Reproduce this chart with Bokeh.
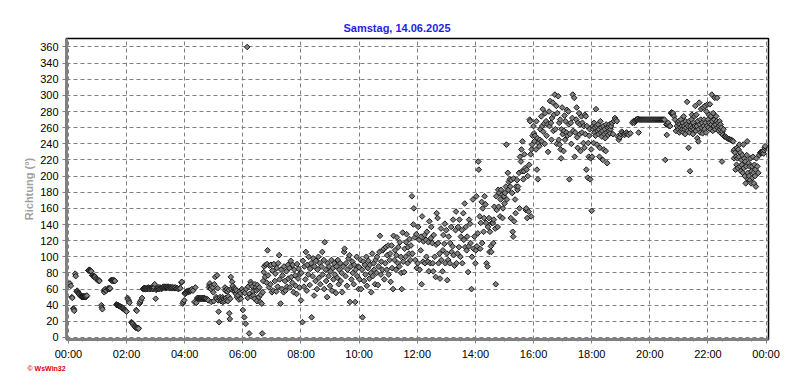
from bokeh.plotting import figure
from bokeh.models import Range1d, FixedTicker, ColumnDataSource, Title
from bokeh.embed import file_html
from bokeh.resources import INLINE
import math

# ---- data: (minute of day, wind direction in degrees) ----
block_00_02 = [(3,67),(5,64),(7,50),(8,49),(10,36),(11,35),(12,33),(14,79),(15,76),(17,57),(18,58),(19,57),(20,56),(21,55),(22,54),(23,53),(24,52),(25,52),(26,51),(27,51),(28,50),(29,51),(30,50),(31,51),(32,50),(33,51),(34,50),(35,51),(36,50),(37,51),(38,52),(41,83),(42,83),(43,84),(44,83),(45,83),(46,82),(47,82),(49,77),(50,77),(51,76),(52,76),(53,75),(54,76),(55,75),(57,73),(59,72),(61,71),(62,70),(63,71),(64,70),(68,40),(69,37),(70,35),(73,58),(74,56),(75,59),(76,60),(78,58),(81,60),(82,61),(83,60),(84,61),(85,60),(86,61),(88,71),(89,71),(90,70),(91,71),(92,71),(93,70),(94,71),(95,70),(96,70),(99,41),(100,40),(101,40),(102,40),(103,40),(104,39),(105,39),(106,39),(107,38),(108,38),(109,38),(110,37),(111,37),(112,36),(114,36),(115,35),(116,34),(117,34),(118,33),(120,32)]
block_02_04 = [(122,49),(123,47),(125,45),(126,43),(130,19),(131,18),(132,18),(133,17),(135,15),(137,14),(138,13),(139,12),(140,34),(141,33),(142,12),(143,11),(144,12),(145,11),(147,42),(148,44),(150,46),(152,49),(154,60),(155,61),(156,60),(157,61),(158,61),(159,60),(160,61),(161,60),(162,61),(163,60),(164,61),(165,62),(166,61),(167,60),(168,61),(169,60),(170,61),(171,62),(172,61),(173,60),(174,61),(175,61),(176,60),(177,62),(178,66),(180,48),(181,59),(182,60),(183,61),(184,60),(185,61),(186,62),(187,60),(188,61),(189,62),(190,61),(192,60),(193,61),(194,62),(195,62),(196,63),(197,62),(198,62),(199,63),(200,62),(201,61),(202,62),(203,63),(204,62),(205,62),(206,63),(207,62),(208,62),(209,61),(210,62),(211,62),(212,62),(213,61),(214,62),(215,62),(217,61),(218,62),(220,61),(221,62),(223,61),(225,61),(227,60),(229,61),(231,61),(233,68),(234,69)]
block_04_06 = [(236,42),(237,44),(239,46),(240,55),(241,54),(242,56),(243,55),(244,57),(245,57),(246,56),(247,57),(248,58),(249,57),(250,58),(251,57),(252,58),(253,59),(255,60),(257,58),(260,44),(262,62),(264,43),(266,49),(267,48),(268,49),(269,48),(270,48),(271,49),(272,48),(273,48),(274,49),(275,48),(276,48),(277,49),(278,48),(279,48),(280,49),(281,48),(282,48),(283,48),(285,48),(287,47),(289,46),(290,62),(291,65),(292,67),(293,63),(294,60),(295,44),(296,64),(298,62),(299,56),(300,45),(301,66),(303,75),(305,50),(306,48),(307,77),(308,61),(309,46),(310,32),(311,19),(312,48),(313,50),(314,47),(315,45),(316,48),(317,46),(318,50),(319,44),(320,48),(321,47),(322,45),(323,62),(324,58),(325,49),(326,46),(327,60),(328,57),(329,45),(330,51),(331,59),(332,30),(333,23),(334,48),(335,75),(336,60),(338,69),(339,64),(340,58),(342,61),(343,59),(344,57),(345,60),(346,54),(347,58),(348,50),(350,52),(352,47),(353,57),(355,55),(356,48)]
block_06_08 = [(358,60),(360,34),(361,57),(363,25),(364,55),(366,17),(367,60),(369,360),(370,49),(371,63),(373,5),(374,54),(376,69),(377,66),(378,51),(380,63),(381,57),(382,52),(384,48),(385,66),(387,62),(388,58),(389,45),(390,65),(392,60),(393,50),(394,62),(396,44),(397,53),(399,42),(400,5),(401,56),(402,70),(403,81),(404,88),(406,75),(407,90),(409,68),(410,91),(411,108),(412,77),(414,62),(415,89),(417,66),(418,90),(420,56),(421,83),(423,58),(424,91),(426,70),(427,79),(429,57),(430,86),(432,63),(433,92),(435,102),(436,72),(438,42),(439,84),(441,60),(442,77),(444,56),(445,88),(447,70),(448,58),(450,82),(451,63),(453,90),(454,73),(456,86),(457,62),(459,95),(460,75),(462,68),(463,90),(465,56),(466,84),(468,77),(469,64),(471,54),(472,91),(474,73),(475,85),(477,62),(478,79)]
block_08_10 = [(480,46),(481,80),(483,19),(484,95),(486,63),(487,88),(489,72),(490,106),(492,58),(493,90),(495,78),(496,100),(498,65),(499,85),(501,92),(502,25),(504,76),(505,98),(507,52),(508,88),(510,70),(511,95),(513,60),(514,84),(516,100),(517,74),(519,92),(520,66),(522,88),(524,106),(525,78),(527,96),(528,60),(529,118),(531,84),(532,70),(534,50),(535,92),(537,76),(538,88),(540,64),(541,82),(543,96),(544,58),(546,86),(547,72),(549,92),(550,78),(552,55),(553,88),(555,74),(556,96),(558,66),(559,84),(561,92),(562,70),(564,80),(565,56),(567,88),(569,106),(570,110),(572,76),(573,92),(575,64),(576,84),(578,98),(580,102),(581,44),(583,88),(584,72),(586,94),(587,80),(589,66),(590,90),(592,44),(593,84),(595,100),(596,76),(598,88),(599,60)]
block_10_12 = [(600,87),(601,72),(603,96),(604,60),(606,84),(607,25),(609,94),(610,70),(612,90),(613,78),(615,100),(616,64),(618,86),(619,95),(621,73),(622,90),(624,80),(625,56),(627,104),(628,76),(630,92),(631,84),(633,66),(634,96),(636,80),(637,100),(639,65),(640,88),(642,106),(643,126),(645,78),(646,94),(648,84),(649,108),(651,110),(652,72),(654,92),(655,112),(657,84),(658,102),(660,114),(661,78),(663,96),(664,104),(665,69),(667,114),(668,86),(670,60),(671,126),(673,96),(674,108),(676,84),(677,102),(678,124),(680,92),(681,112),(683,88),(684,118),(686,100),(687,80),(688,60),(690,130),(691,94),(693,81),(694,110),(696,100),(697,118),(698,128),(700,92),(701,112),(703,104),(704,122),(706,96),(707,114),(709,175),(710,104),(712,140),(713,160),(715,124),(716,96),(718,128),(719,86)]
block_12_14 = [(721,92),(722,137),(724,121),(725,84),(727,108),(728,125),(729,66),(730,150),(732,94),(733,119),(735,127),(736,92),(738,121),(739,100),(740,131),(742,94),(743,118),(744,82),(745,144),(747,92),(748,123),(749,137),(751,117),(752,92),(753,82),(754,127),(756,100),(758,75),(759,115),(760,154),(762,148),(763,117),(764,92),(766,104),(767,73),(769,135),(770,96),(772,82),(773,108),(774,127),(776,116),(777,141),(778,92),(780,133),(781,104),(782,71),(784,96),(785,125),(787,92),(788,117),(790,137),(791,106),(793,113),(794,146),(795,102),(797,89),(799,133),(800,156),(801,92),(803,104),(804,137),(806,112),(807,146),(809,100),(810,125),(812,133),(813,92),(815,154),(816,121),(818,166),(819,112),(820,137),(822,108),(823,125),(825,81),(826,113),(827,146),(829,141),(830,117),(832,60),(833,100),(835,171),(836,110),(838,125),(840,92),(841,108)]
block_14_16 = [(842,175),(843,113),(845,129),(846,218),(847,208),(849,150),(850,110),(851,142),(853,168),(854,117),(855,160),(857,131),(858,148),(859,175),(861,165),(862,142),(863,92),(865,88),(866,137),(868,148),(869,106),(870,131),(872,113),(873,106),(874,142),(876,142),(877,117),(878,146),(879,162),(881,135),(882,66),(883,175),(884,158),(886,137),(887,183),(888,162),(889,179),(891,150),(892,171),(893,183),(895,177),(896,148),(897,160),(899,175),(900,166),(901,179),(903,187),(904,239),(905,171),(907,204),(908,183),(909,193),(911,196),(912,187),(913,148),(914,195),(916,179),(917,131),(918,125),(919,197),(920,144),(922,171),(923,154),(924,187),(926,195),(927,183),(928,187),(930,204),(931,160),(932,224),(934,218),(935,233),(936,206),(937,243),(939,196),(940,206),(941,227),(943,210),(944,158),(945,160),(946,208),(947,148),(948,200),(950,156),(951,214),(952,270),(953,268),(954,227),(955,150),(956,233),(957,239),(958,250),(960,262)]
block_16_18 = [(961,253),(962,243),(963,250),(965,233),(966,268),(967,208),(968,247),(969,196),(970,241),(972,237),(973,245),(974,258),(976,274),(977,243),(978,262),(979,283),(980,255),(982,265),(983,240),(984,278),(986,268),(987,250),(989,264),(990,230),(992,280),(993,262),(994,293),(996,266),(997,245),(998,272),(1000,291),(1001,256),(1002,276),(1004,301),(1005,258),(1007,287),(1008,240),(1009,278),(1011,299),(1012,245),(1013,266),(1014,239),(1015,270),(1016,233),(1017,222),(1018,258),(1019,285),(1020,252),(1022,231),(1023,256),(1024,275),(1025,245),(1026,268),(1028,254),(1029,282),(1030,250),(1032,280),(1033,264),(1034,196),(1035,252),(1037,266),(1038,240),(1040,272),(1041,301),(1042,256),(1044,297),(1045,224),(1046,254),(1048,270),(1049,285),(1050,248),(1051,235),(1052,266),(1054,278),(1055,252),(1056,264),(1057,231),(1059,274),(1060,254),(1061,266),(1063,241),(1064,262),(1065,235),(1066,276),(1067,252),(1068,274),(1069,208),(1070,262),(1072,198),(1073,241),(1074,224),(1075,250),(1076,258),(1077,196),(1078,222),(1079,233),(1080,157)]
block_18_20 = [(1081,224),(1082,262),(1083,258),(1084,241),(1085,266),(1086,254),(1087,260),(1088,250),(1089,283),(1090,262),(1091,239),(1092,256),(1093,264),(1094,252),(1095,258),(1096,224),(1097,235),(1098,268),(1099,254),(1100,260),(1101,249),(1102,256),(1103,220),(1104,262),(1105,233),(1106,252),(1107,258),(1108,247),(1109,231),(1110,264),(1111,254),(1112,216),(1113,260),(1114,251),(1115,262),(1116,256),(1117,264),(1118,253),(1119,258),(1120,262),(1122,266),(1124,252),(1126,268),(1128,272),(1130,270),(1132,268),(1134,249),(1136,245),(1138,248),(1140,252),(1142,255),(1144,254),(1146,252),(1148,251),(1150,253),(1152,254),(1154,252),(1156,251),(1160,253),(1164,266),(1166,268),(1168,266),(1170,268),(1171,269),(1172,270),(1173,270),(1174,270),(1175,270),(1176,271),(1177,254),(1178,270),(1180,270),(1182,270),(1184,270),(1186,270),(1188,270),(1190,270),(1192,270),(1194,270),(1196,270),(1198,270),(1200,270)]
block_20_22 = [(1202,270),(1204,270),(1206,270),(1208,270),(1210,270),(1212,270),(1214,270),(1216,270),(1218,270),(1220,270),(1222,270),(1224,270),(1226,270),(1228,270),(1230,270),(1232,220),(1234,264),(1235,251),(1236,264),(1238,266),(1240,262),(1242,262),(1244,278),(1245,279),(1246,278),(1247,277),(1248,278),(1250,274),(1252,270),(1254,256),(1256,262),(1258,266),(1259,258),(1260,268),(1261,254),(1262,264),(1263,260),(1264,270),(1265,256),(1266,262),(1267,258),(1268,266),(1269,254),(1270,274),(1271,262),(1272,258),(1273,252),(1274,268),(1275,260),(1276,264),(1277,292),(1278,256),(1279,262),(1280,235),(1281,268),(1282,254),(1283,206),(1284,262),(1285,258),(1286,270),(1287,276),(1288,260),(1289,252),(1290,266),(1291,258),(1292,274),(1293,262),(1294,287),(1295,256),(1296,276),(1297,262),(1298,247),(1299,268),(1300,243),(1301,258),(1302,291),(1303,264),(1304,254),(1305,270),(1306,283),(1307,260),(1308,266),(1309,253),(1310,285),(1311,262),(1312,270),(1313,258),(1314,287),(1315,266),(1316,254),(1317,280),(1318,262),(1319,289),(1320,270)]
block_22_24 = [(1321,260),(1322,276),(1323,266),(1324,289),(1325,258),(1326,274),(1327,264),(1328,301),(1329,268),(1330,256),(1331,278),(1332,262),(1333,270),(1334,297),(1335,258),(1336,264),(1337,274),(1338,268),(1339,297),(1340,260),(1341,266),(1342,256),(1343,262),(1344,268),(1345,258),(1346,264),(1347,253),(1348,260),(1349,218),(1350,255),(1351,251),(1352,258),(1354,249),(1356,249),(1358,248),(1360,247),(1362,246),(1364,246),(1366,245),(1368,245),(1370,244),(1372,243),(1373,231),(1374,222),(1375,233),(1376,229),(1377,208),(1378,224),(1379,214),(1380,235),(1381,222),(1382,210),(1383,233),(1384,224),(1385,239),(1386,212),(1387,229),(1388,206),(1389,220),(1390,214),(1391,226),(1392,204),(1393,239),(1394,210),(1395,222),(1396,200),(1397,218),(1398,191),(1399,212),(1400,226),(1401,243),(1402,204),(1403,196),(1404,216),(1405,200),(1406,212),(1407,195),(1408,222),(1409,191),(1410,206),(1411,212),(1412,198),(1413,224),(1414,204),(1415,191),(1416,214),(1417,200),(1418,208),(1419,187),(1420,222),(1422,212),(1424,204),(1426,226),(1428,229),(1429,229),(1430,230),(1431,229),(1432,230),(1433,229),(1434,230),(1435,228),(1436,232),(1437,235),(1438,237)]

x_tick_minutes = list(range(0, 1441, 120))
x_tick_labels = ["00:00", "02:00", "04:00", "06:00", "08:00", "10:00", "12:00",
                 "14:00", "16:00", "18:00", "20:00", "22:00", "00:00"]
y_ticks = list(range(0, 361, 20))
title_text = "Samstag, 14.06.2025"
y_label = "Richtung (°)"
credit_text = "© WsWin32"

blocks = [block_00_02, block_02_04, block_04_06, block_06_08, block_08_10, block_10_12,
          block_12_14, block_14_16, block_16_18, block_18_20, block_20_22, block_22_24]
minutes = [m for b in blocks for (m, d) in b]
dirs = [d for b in blocks for (m, d) in b]
src = ColumnDataSource(dict(minute=minutes, richtung=dirs))

FONT = "Liberation Sans"

p = figure(width=792, height=387, output_backend="svg", toolbar_location=None,
           x_range=Range1d(-4, 1445), y_range=Range1d(-2.5, 370.5),
           min_border_left=66, min_border_right=24, min_border_top=38, min_border_bottom=48,
           background_fill_color="white", border_fill_color="white")
p.outline_line_color = "black"
p.outline_line_width = 1.5

p.title = Title(text=title_text, align="left", offset=277, text_font=FONT,
                text_font_size="11px", text_font_style="bold", text_color="#1e1ee6",
                standoff=10)

p.scatter("minute", "richtung", source=src, marker="square", angle=math.pi / 4, size=4,
          fill_color="#808080", line_color="#1a1a1a", line_width=1)

# axes
xa = p.xaxis[0]
xa.ticker = FixedTicker(ticks=x_tick_minutes, minor_ticks=list(range(0, 1441, 30)))
xa.major_label_overrides = {m: l for m, l in zip(x_tick_minutes, x_tick_labels)}
ya = p.yaxis[0]
ya.ticker = FixedTicker(ticks=y_ticks, minor_ticks=[])
ya.axis_label = y_label
ya.axis_label_text_font = FONT
ya.axis_label_text_font_style = "bold"
ya.axis_label_text_color = "#a0a0a0"
ya.axis_label_text_font_size = "11px"
ya.axis_label_standoff = 2

for ax in (xa, ya):
    ax.axis_line_color = "#808080"
    ax.axis_line_width = 3
    ax.major_tick_line_color = "#808080"
    ax.minor_tick_line_color = "#808080"
    ax.major_tick_in = 0
    ax.major_tick_out = 4
    ax.minor_tick_in = 0
    ax.minor_tick_out = 2
    ax.major_label_text_font = FONT
    ax.major_label_text_font_size = "11px"
    ax.major_label_text_color = "black"
    ax.major_label_standoff = 4

for g in (p.xgrid[0], p.ygrid[0]):
    g.grid_line_color = "#808080"
    g.grid_line_dash = "4 3"
    g.grid_line_width = 1
p.xgrid[0].ticker = FixedTicker(ticks=x_tick_minutes)
p.ygrid[0].ticker = FixedTicker(ticks=y_ticks)

# credit line below the axis
p.add_layout(Title(text=credit_text, align="left", offset=-39, text_font=FONT,
                   text_font_size="7px", text_font_style="bold", text_color="#e00000",
                   standoff=0), "below")

open("out.html", "w").write(file_html(p, INLINE))
